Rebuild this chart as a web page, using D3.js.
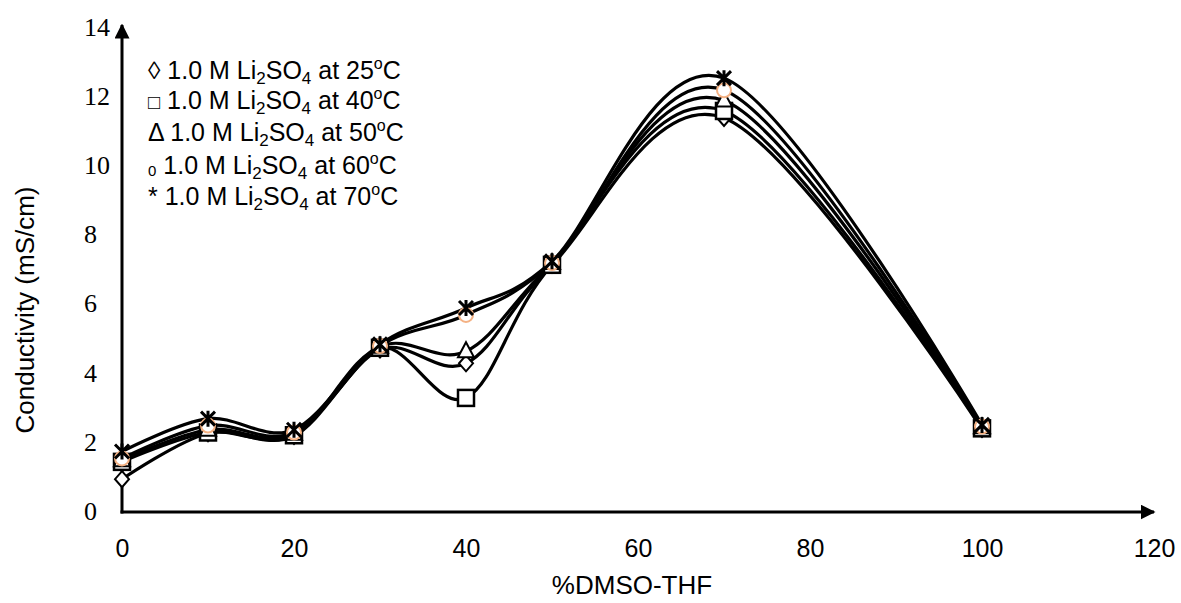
<!DOCTYPE html>
<html><head><meta charset="utf-8">
<script src="https://cdn.jsdelivr.net/npm/d3@7"></script>
<style>body{margin:0;background:#fff}svg{display:block}</style>
</head><body>
<svg id="c" width="1181" height="603"></svg>
<script>
const xValues = [0, 10, 20, 30, 40, 50, 70, 100];
const s25 = [0.95, 2.28, 2.2, 4.7, 4.3, 7.15, 11.4, 2.4];
const s40 = [1.45, 2.3, 2.22, 4.75, 3.3, 7.15, 11.6, 2.42];
const s50 = [1.5, 2.38, 2.26, 4.78, 4.65, 7.2, 11.9, 2.45];
const s60 = [1.55, 2.5, 2.3, 4.8, 5.7, 7.2, 12.2, 2.47];
const s70 = [1.75, 2.7, 2.38, 4.85, 5.9, 7.25, 12.55, 2.52];
const xTicks = [0, 20, 40, 60, 80, 100, 120];
const yTicks = [0, 2, 4, 6, 8, 10, 12, 14];
const seriesNames = ["25", "40", "50", "60", "70"];
const legendSymbols = ["◊", "□", "Δ", "0", "*"];

const series = [
  {name: seriesNames[0], vals: s25, marker: "diamond"},
  {name: seriesNames[1], vals: s40, marker: "square"},
  {name: seriesNames[2], vals: s50, marker: "triangle"},
  {name: seriesNames[3], vals: s60, marker: "circle"},
  {name: seriesNames[4], vals: s70, marker: "star"}
];

const SANS = "Liberation Sans, Arial, sans-serif";
const SERIF = "Liberation Serif, Times New Roman, serif";
const svg = d3.select("#c");
const x = d3.scaleLinear().domain([0, 120]).range([122, 1154]);
const y = d3.scaleLinear().domain([0, 14]).range([512, 28]);

const defs = svg.append("defs");
defs.append("marker").attr("id","arr").attr("viewBox","0 0 10 10").attr("refX",9).attr("refY",5)
  .attr("markerWidth",5).attr("markerHeight",5).attr("orient","auto")
  .append("path").attr("d","M0,0 L10,5 L0,10 z").attr("fill","#000");

svg.append("line").attr("x1", x(0)).attr("x2", x(0)).attr("y1", y(0)+1.5).attr("y2", y(14)-3)
  .attr("stroke","#000").attr("stroke-width",3).attr("marker-end","url(#arr)");
svg.append("line").attr("x1", x(0)-1.5).attr("x2", x(120)).attr("y1", y(0)).attr("y2", y(0))
  .attr("stroke","#000").attr("stroke-width",3).attr("marker-end","url(#arr)");

const xAxis = d3.axisBottom(x).tickValues(xTicks).tickSize(0).tickPadding(0);
const gx = svg.append("g").attr("transform", `translate(0,${y(0)+36})`).call(xAxis);
gx.select(".domain").remove();
gx.selectAll("text").attr("font-family",SANS).attr("font-size",25).attr("fill","#000").attr("dy","0.35em");

const yAxis = d3.axisLeft(y).tickValues(yTicks).tickSize(0).tickPadding(0);
const gy = svg.append("g").attr("transform", `translate(84,-1)`).call(yAxis);
gy.select(".domain").remove();
gy.selectAll("text").attr("font-family",SERIF).attr("font-size",26).attr("fill","#000")
  .attr("text-anchor","start").attr("x",0);

svg.append("text").attr("x", 632).attr("y", 594).attr("text-anchor","middle")
  .attr("font-family",SANS).attr("font-size",26).text("%DMSO-THF");
svg.append("text").attr("transform","translate(34,310) rotate(-90)").attr("text-anchor","middle")
  .attr("font-family",SANS).attr("font-size",26).text("Conductivity (mS/cm)");

const line = d3.line().x((d,i)=>x(xValues[i])).y(d=>y(d)).curve(d3.curveCardinal.tension(0));

function drawMarker(g, m, cx, cy){
  if (m === "diamond") {
    g.append("path").attr("d", `M${cx},${cy-8} L${cx+7},${cy} L${cx},${cy+8} L${cx-7},${cy} Z`)
      .attr("fill","#fff").attr("stroke","#000").attr("stroke-width",2);
  } else if (m === "square") {
    g.append("rect").attr("x",cx-8).attr("y",cy-8).attr("width",16).attr("height",16)
      .attr("fill","#fff").attr("stroke","#000").attr("stroke-width",2.5);
  } else if (m === "triangle") {
    g.append("path").attr("d", `M${cx},${cy-9} L${cx+8},${cy+6} L${cx-8},${cy+6} Z`)
      .attr("fill","#fff").attr("stroke","#000").attr("stroke-width",2);
  } else if (m === "circle") {
    g.append("circle").attr("cx",cx).attr("cy",cy).attr("r",7)
      .attr("fill","#fff").attr("stroke","#f4b183").attr("stroke-width",2);
  } else if (m === "star") {
    g.append("path").attr("d", `M${cx-7},${cy-7} L${cx+7},${cy+7} M${cx+7},${cy-7} L${cx-7},${cy+7} M${cx},${cy-8} L${cx},${cy+8}`)
      .attr("fill","none").attr("stroke","#000").attr("stroke-width",3);
  }
}

series.forEach(s => {
  svg.append("path").datum(s.vals).attr("d", line).attr("fill","none")
    .attr("stroke","#000").attr("stroke-width",3.2);
});
series.forEach(s => {
  const g = svg.append("g");
  s.vals.forEach((v,i)=> drawMarker(g, s.marker, x(xValues[i]), y(v)));
});

const lg = svg.append("g").attr("font-family",SANS).attr("font-size",25).attr("fill","#000");
const lgY = [79, 109, 141, 174, 205];
seriesNames.forEach((n,i)=>{
  const t = lg.append("text").attr("x",148).attr("y",lgY[i]);
  const sym = t.append("tspan").text(legendSymbols[i]);
  if (i === 3) sym.attr("font-size",15).attr("dy",2);
  if (i === 1) sym.attr("font-size",20);
  t.append("tspan").attr("dy", i===3 ? -2 : 0).text(" 1.0 M Li");
  t.append("tspan").attr("font-size",17).attr("dy",5).text("2");
  t.append("tspan").attr("dy",-5).text("SO");
  t.append("tspan").attr("font-size",17).attr("dy",5).text("4");
  t.append("tspan").attr("dy",-5).text(" at " + n);
  t.append("tspan").attr("font-size",16).attr("dy",-10).text("o");
  t.append("tspan").attr("dy",10).text("C");
});
</script>
</body></html>
